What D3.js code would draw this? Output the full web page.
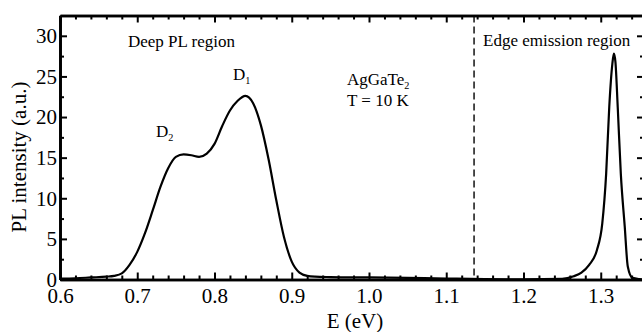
<!DOCTYPE html>
<meta charset="utf-8">
<head>
  <title>AgGaTe2 PL spectrum</title>
</head>

<style>
body { margin: 0; background: #fff; }
.axis path, .axis line { stroke: #000; }
.axis path { stroke-width: 2.7px; }
.axis line { stroke-width: 2px; }
</style>

<body>
  <svg id="chart" width="642" height="332"></svg>

  <script src="https://cdnjs.cloudflare.com/ajax/libs/d3/7.8.5/d3.min.js"></script>
  <script>

  // photon energy (eV) and PL intensity (a.u.)
  var energy = [0.60, 0.62, 0.64, 0.66, 0.67, 0.68, 0.69, 0.70, 0.71, 0.72,
                0.73, 0.74, 0.75, 0.76, 0.77, 0.78, 0.79, 0.80, 0.81, 0.82,
                0.83, 0.84, 0.85, 0.86, 0.87, 0.88, 0.89, 0.90, 0.91, 0.92,
                0.93, 0.95, 1.00, 1.05, 1.10, 1.15, 1.20, 1.25, 1.265, 1.275,
                1.285, 1.295, 1.302, 1.307, 1.311, 1.315, 1.317, 1.319, 1.322, 1.326,
                1.331, 1.335, 1.341, 1.35, 1.356];
  var intensity = [0.1, 0.15, 0.25, 0.35, 0.45, 0.75, 1.8, 3.4, 5.7, 8.5,
                   11.4, 13.7, 15.1, 15.4, 15.3, 15.1, 15.5, 16.7, 18.9, 20.8,
                   22.0, 22.6, 21.7, 19.0, 14.8, 9.75, 5.2, 2.2, 0.85, 0.45,
                   0.35, 0.3, 0.25, 0.2, 0.12, 0.05, 0.03, 0.08, 0.4, 0.85,
                   1.8, 3.6, 6.9, 13.0, 21.2, 26.5, 27.8, 26.8, 21.2, 13.0,
                   6.6, 1.6, 0.2, 0.05, 0.02];

  var xTicks = [0.6, 0.7, 0.8, 0.9, 1.0, 1.1, 1.2, 1.3];
  var yTicks = [0, 5, 10, 15, 20, 25, 30];
  var boundary = 1.136;   // dashed line between the two regions

  var serif = "'Liberation Serif', 'Times New Roman', Times, 'DejaVu Serif', serif";
  var svg = d3.select("#chart").style("font-family", serif);
  var mLeft = 60, mRight = 644, mTop = 15.5, mBottom = 279.5;

  var x = d3.scaleLinear().domain([0.6, 1.356]).range([mLeft, mRight]);
  var y = d3.scaleLinear().domain([0, 32.5]).range([mBottom, mTop]);

  var xMinor = d3.range(0.6, 1.36, 0.02).filter(function(v) {
    return Math.abs(v * 10 - Math.round(v * 10)) > 0.01;
  });
  var yMinor = d3.range(2.5, 32.5, 5);

  // minor ticks first
  svg.append("g").attr("class", "axis").attr("transform", "translate(0," + mBottom + ")")
    .call(d3.axisBottom(x).tickValues(xMinor).tickSizeInner(-4).tickSizeOuter(0).tickFormat(""));
  svg.append("g").attr("class", "axis").attr("transform", "translate(0," + mTop + ")")
    .call(d3.axisTop(x).tickValues(xMinor).tickSizeInner(-4).tickSizeOuter(0).tickFormat(""));
  svg.append("g").attr("class", "axis").attr("transform", "translate(" + mLeft + ",0)")
    .call(d3.axisLeft(y).tickValues(yMinor).tickSizeInner(-4).tickSizeOuter(0).tickFormat(""));
  svg.append("g").attr("class", "axis").attr("transform", "translate(" + mRight + ",0)")
    .call(d3.axisRight(y).tickValues(yMinor).tickSizeInner(-4).tickSizeOuter(0).tickFormat(""));

  // major ticks
  svg.append("g").attr("class", "axis").attr("transform", "translate(0," + mBottom + ")")
    .call(d3.axisBottom(x).tickValues(xTicks).tickSizeInner(-7).tickSizeOuter(0)
      .tickPadding(9).tickFormat(d3.format(".1f")));
  svg.append("g").attr("class", "axis").attr("transform", "translate(0," + mTop + ")")
    .call(d3.axisTop(x).tickValues(xTicks).tickSizeInner(-7).tickSizeOuter(0).tickFormat(""));
  svg.append("g").attr("class", "axis").attr("transform", "translate(" + mLeft + ",0)")
    .call(d3.axisLeft(y).tickValues(yTicks).tickSizeInner(-7).tickSizeOuter(0)
      .tickPadding(3).tickFormat(d3.format("d")));
  svg.append("g").attr("class", "axis").attr("transform", "translate(" + mRight + ",0)")
    .call(d3.axisRight(y).tickValues(yTicks).tickSizeInner(-7).tickSizeOuter(0).tickFormat(""));

  svg.selectAll(".axis")
    .attr("font-family", serif)
    .attr("font-size", 21);
  svg.selectAll(".axis text").attr("fill", "#000");

  // dashed separator
  svg.append("line")
    .attr("x1", x(boundary)).attr("x2", x(boundary))
    .attr("y1", mTop).attr("y2", mBottom)
    .attr("stroke", "#000").attr("stroke-width", 1.4)
    .attr("stroke-dasharray", "7,4");

  // spectrum
  var line = d3.line()
    .x(function(d, i) { return x(energy[i]); })
    .y(function(d) { return y(d); })
    .curve(d3.curveMonotoneX);

  svg.append("path")
    .datum(intensity)
    .attr("d", line)
    .attr("fill", "none")
    .attr("stroke", "#000")
    .attr("stroke-width", 2.2);

  // axis titles
  svg.append("text")
    .attr("x", 355).attr("y", 328)
    .attr("text-anchor", "middle").attr("font-family", serif).attr("font-size", 21)
    .text("E (eV)");
  svg.append("text")
    .attr("transform", "translate(26,157) rotate(-90)")
    .attr("text-anchor", "middle").attr("font-family", serif).attr("font-size", 21)
    .text("PL intensity (a.u.)");

  // annotations
  function note(tx, ty, main, sub, size) {
    var t = svg.append("text").attr("x", tx).attr("y", ty)
      .attr("font-family", serif).attr("font-size", size);
    t.append("tspan").text(main);
    if (sub) t.append("tspan").attr("dy", 4).attr("font-size", size * 0.6).text(sub);
  }
  note(128, 47, "Deep PL region", null, 17);
  note(483, 46, "Edge emission region", null, 17);
  note(156, 137, "D", "2", 17);
  note(233, 80, "D", "1", 17);
  note(347, 85, "AgGaTe", "2", 17);
  note(347, 106, "T = 10 K", null, 17);

  </script>
</body>
</html>
